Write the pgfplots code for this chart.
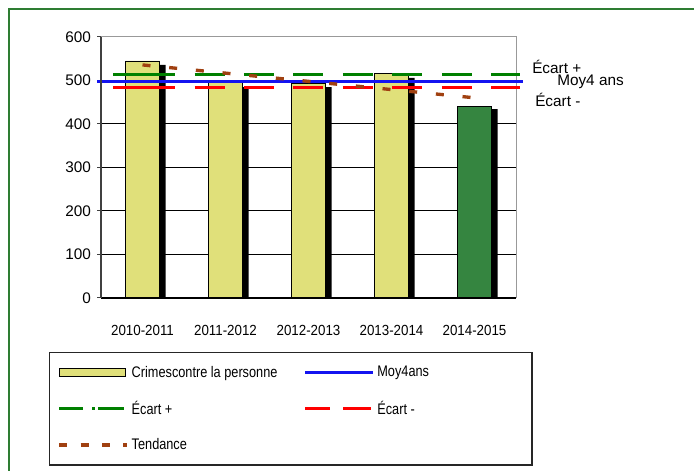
\documentclass[border=0pt]{standalone}
\usepackage{fontspec}
\setmainfont{Liberation Sans}
\newfontfamily\legfont[FakeStretch=0.83]{Liberation Sans}
\newfontfamily\xfont[FakeStretch=0.91]{Liberation Sans}
\usepackage{pgfplots}
\pgfplotsset{compat=1.18}
\definecolor{barY}{RGB}{224,224,122}
\definecolor{barG}{RGB}{53,133,64}
\definecolor{frameG}{RGB}{46,125,50}
\definecolor{ecP}{RGB}{0,128,0}
\definecolor{moyB}{RGB}{20,20,240}
\definecolor{trend}{RGB}{160,64,16}
\begin{document}
\begin{tikzpicture}
\path[use as bounding box] (0,0) rectangle (520.5pt,353.25pt);
\fill[white] (0,0) rectangle (520.5pt,353.25pt);
\draw[frameG, line width=1.5pt] (6.75pt,0) -- (6.75pt,346.5pt) -- (520.5pt,346.5pt);
\begin{axis}[
  at={(75.75pt,129.75pt)}, anchor=south west,
  scale only axis, width=311.25pt, height=195.75pt,
  xmin=-0.5, xmax=4.5, ymin=0, ymax=600,
  ytick={0,100,...,500}, extra y ticks={600}, extra y tick style={grid=none},
  ytick pos=left,
  xtick={0,...,4},
  xticklabels={2010-2011,2011-2012,2012-2013,2013-2014,2014-2015},
  xtick style={draw=none},
  tick align=outside, major tick length=3pt,
  ytick style={black!75, line width=0.75pt},
  ymajorgrids, major grid style={black, line width=0.75pt},
  axis line style={draw=black!40, line width=0.75pt},
  /pgf/number format/assume math mode=true,
  yticklabel style={font=\fontsize{11.5}{13}\selectfont, xshift=-1pt},
  xticklabel style={font=\fontsize{11}{13}\selectfont\xfont, yshift=-14pt},
  clip=false,
  legend columns=2,
  legend cell align=left,
  legend style={at={(-0.1253,-0.2069)}, anchor=north west,
    draw=black!85, line width=1.1pt, fill=white,
    inner xsep=6pt, inner ysep=8pt, row sep=12.5pt,
    font=\fontsize{11.5}{13}\selectfont\legfont,
    /tikz/every even column/.append style={column sep=6pt}},
]
\addplot[ybar, bar width=25.5pt, bar shift=4.5pt, fill=black, draw=none, forget plot]
  coordinates {(0,536) (1,485) (2,485) (3,506) (4,434)};
\addplot[ybar, bar width=25.5pt, bar shift=0pt, fill=barY, draw=black, line width=0.6pt,
  legend image code/.code={\draw[fill=barY, draw=black, line width=0.75pt] (0pt,-3pt) rectangle (49.5pt,3pt);}]
  coordinates {(0,545) (1,495) (2,494) (3,516)};
\addlegendentry{\makebox[121pt][l]{Crimescontre la personne}}
\addplot[ybar, bar width=25.5pt, bar shift=0pt, fill=barG, draw=black, line width=0.6pt, forget plot]
  coordinates {(4,440)};
\addplot[moyB, line width=2.25pt,
  legend image code/.code={\draw[moyB, line width=2.25pt] (0pt,0pt) -- (51pt,0pt);}]
  coordinates {(-0.548,498) (4.584,498)};
\addlegendentry{\makebox[108pt][l]{Moy4ans}}
\addplot[ecP, line width=2.25pt,
  dash pattern=on 46.5pt off 14.6pt on 22.5pt off 14.6pt on 22.5pt off 14.6pt on 22.5pt off 14.6pt on 22.5pt off 14.6pt on 22.5pt off 14.6pt on 22.5pt off 14.6pt on 22.5pt off 14.6pt,
  legend image code/.code={\draw[ecP, line width=2.25pt, dash pattern=on 18pt off 6.75pt on 2.25pt off 2.25pt on 19pt off 5pt] (0pt,0pt) -- (49.5pt,0pt);}]
  coordinates {(-0.355,514) (4.548,514)};
\addlegendentry{\makebox[121pt][l]{Écart +}}
\addplot[red, line width=2.25pt,
  dash pattern=on 46.5pt off 14.6pt on 22.5pt off 14.6pt on 22.5pt off 14.6pt on 22.5pt off 14.6pt on 22.5pt off 14.6pt on 22.5pt off 14.6pt on 22.5pt off 14.6pt on 22.5pt off 14.6pt,
  legend image code/.code={\draw[red, line width=2.25pt, dash pattern=on 18.75pt off 9.75pt on 21pt off 5pt] (0pt,0pt) -- (49.5pt,0pt);}]
  coordinates {(-0.355,483) (4.548,483)};
\addlegendentry{\makebox[108pt][l]{Écart -}}
\addplot[trend, line width=2.5pt, dash pattern=on 6pt off 14.1pt,
  legend image code/.code={\draw[trend, line width=2.5pt, dash pattern=on 6pt off 10pt] (0pt,0pt) -- (51pt,0pt);}]
  coordinates {(0,535.8) (4,460.2)};
\addlegendentry{\makebox[121pt][l]{Tendance}}
\draw[black, line width=1.5pt] (rel axis cs:0,0) -- (rel axis cs:1,0);
\draw[black!75, line width=1pt] (rel axis cs:0,0) -- (rel axis cs:0,1);
\end{axis}
\node[anchor=west, inner sep=0, font=\fontsize{11.5}{13}\selectfont] at (399pt,303.2pt) {Écart +};
\node[anchor=west, inner sep=0, font=\fontsize{11.5}{13}\selectfont] at (417.75pt,291.75pt) {Moy4 ans};
\node[anchor=west, inner sep=0, font=\fontsize{11.5}{13}\selectfont] at (401.25pt,278.25pt) {Écart -};
\end{tikzpicture}
\end{document}
